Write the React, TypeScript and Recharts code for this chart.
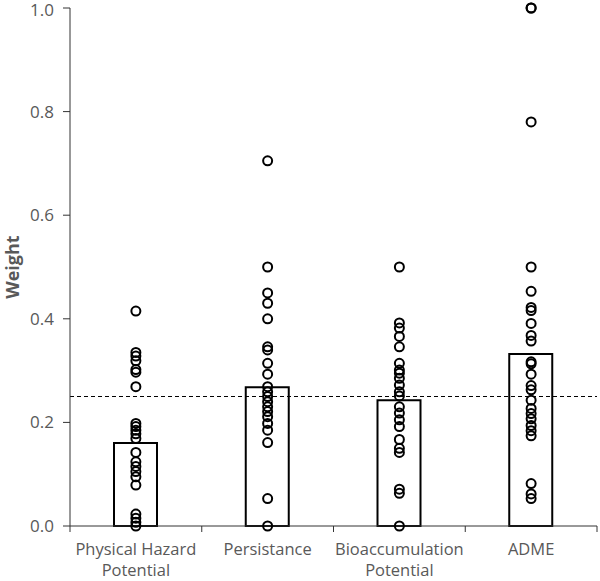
import { ComposedChart, Bar, Scatter, XAxis, YAxis, ReferenceLine } from "recharts";

const categories = ["Physical Hazard\nPotential", "Persistance", "Bioaccumulation\nPotential", "ADME"];
const means = [0.16, 0.268, 0.243, 0.332];

const physicalHazard = [0.415, 0.335, 0.328, 0.319, 0.302, 0.297, 0.269, 0.198, 0.192, 0.185, 0.178, 0.169, 0.142, 0.124, 0.115, 0.105, 0.095, 0.079, 0.023, 0.015, 0.007, 0.0];
const persistance = [0.705, 0.5, 0.45, 0.43, 0.4, 0.346, 0.34, 0.314, 0.293, 0.269, 0.259, 0.25, 0.24, 0.23, 0.221, 0.211, 0.198, 0.185, 0.161, 0.053, 0.0];
const bioaccumulation = [0.5, 0.392, 0.382, 0.366, 0.346, 0.314, 0.301, 0.295, 0.285, 0.272, 0.259, 0.251, 0.23, 0.218, 0.205, 0.192, 0.167, 0.15, 0.142, 0.071, 0.063, 0.0];
const adme = [1.0, 1.0, 0.78, 0.5, 0.453, 0.422, 0.416, 0.391, 0.368, 0.357, 0.317, 0.313, 0.293, 0.271, 0.263, 0.243, 0.227, 0.217, 0.207, 0.194, 0.184, 0.174, 0.082, 0.062, 0.053];

const yTicks = [0, 0.2, 0.4, 0.6, 0.8, 1.0];
const threshold = 0.25;

const barData = categories.map((name, i) => ({ name, mean: means[i] }));
const pointData = [physicalHazard, persistance, bioaccumulation, adme].flatMap((vals, i) =>
  vals.map((v) => ({ x: i + 0.5, y: v }))
);
// boundaries get tick marks, half positions get the labels
const xTicks = [0, 0.5, 1, 1.5, 2, 2.5, 3, 3.5, 4];

const GRAY = "#595959";
const FONT = "'Open Sans', sans-serif";

function XTick(props: any) {
  const { x, y, payload } = props;
  const v = payload.value;
  if (Number.isInteger(v)) {
    return <line x1={x} x2={x} y1={y} y2={y + 6} stroke="#333" strokeWidth={1} />;
  }
  const lines = categories[Math.floor(v)].split("\n");
  return (
    <text x={x} y={y + 29} textAnchor="middle" fill={GRAY} fontSize={16.5} fontFamily={FONT}>
      {lines.map((l, i) => (
        <tspan key={i} x={x} dy={i === 0 ? 0 : 21}>
          {l}
        </tspan>
      ))}
    </text>
  );
}

function Ring(props: any) {
  return <circle cx={props.cx} cy={props.cy} r={4.5} fill="none" stroke="#000" strokeWidth={2} />;
}

export default function App() {
  return (
    <div style={{ position: "absolute", left: 0, top: 0, background: "#fff" }}>
      <ComposedChart width={600} height={581} data={barData} margin={{ top: 8, right: 3, left: 0, bottom: 0 }}>
        <XAxis dataKey="name" type="category" orientation="top" height={0} hide />
        <XAxis
          xAxisId="num"
          type="number"
          dataKey="x"
          domain={[0, 4]}
          ticks={xTicks}
          interval={0}
          tick={<XTick />}
          tickLine={false}
          tickSize={0}
          tickMargin={0}
          height={55}
          axisLine={{ stroke: "#333" }}
          allowDataOverflow
        />
        <YAxis
          domain={[0, 1]}
          ticks={yTicks}
          width={70}
          tickFormatter={(v: number) => v.toFixed(1)}
          tick={{ fill: GRAY, fontSize: 17, fontFamily: FONT }}
          tickSize={7}
          tickMargin={9}
          tickLine={{ stroke: "#333" }}
          axisLine={{ stroke: "#333" }}
          label={{ value: "Weight", angle: -90, position: "center", dx: -22, fill: GRAY, fontSize: 18, fontWeight: "bold", fontFamily: FONT }}
        />
        <Bar dataKey="mean" barSize={43} fill="#fff" stroke="#000" strokeWidth={2} isAnimationActive={false} />
        <ReferenceLine y={threshold} stroke="#000" strokeDasharray="4 3" strokeWidth={1} />
        <Scatter xAxisId="num" data={pointData} dataKey="y" shape={<Ring />} isAnimationActive={false} />
      </ComposedChart>
    </div>
  );
}
